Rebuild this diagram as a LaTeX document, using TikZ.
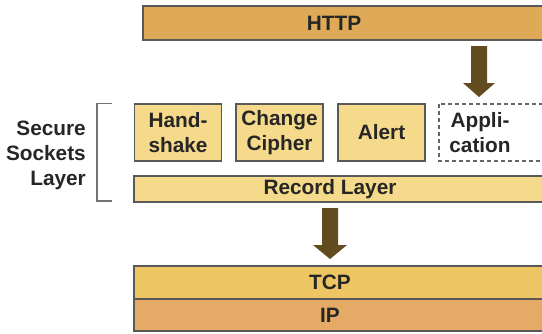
\documentclass[tikz,border=0pt]{standalone}
\usepackage{fontspec}
\setmainfont{Liberation Sans}
\begin{document}
\begin{tikzpicture}[x=1pt,y=-1pt,
  lbl/.style={font=\bfseries\fontsize{20.8}{25}\selectfont, text=black!85, inner sep=0pt, align=center},
  bar/.style={draw=black!65, line width=1.2pt, lbl},
  proto/.style={bar, fill=protofill},
  fatarrow/.style={fill=arrowbrown, draw=none}
]
\definecolor{httpfill}{HTML}{DEAA57}
\definecolor{protofill}{HTML}{F6DA8B}
\definecolor{tcpfill}{HTML}{EDC562}
\definecolor{ipfill}{HTML}{E5AA66}
\definecolor{arrowbrown}{HTML}{634B20}
\useasboundingbox (0,0) rectangle (542,333);
\clip (0,0) rectangle (542,333);
% bars
\draw[bar, fill=httpfill] (143,6) rectangle (560,40);
\node[lbl] (http) at (334,23) {HTTP};
\node[proto, minimum width=87pt, minimum height=57pt] (hs) at (178,132.5) {Hand-\\shake};
\node[proto, minimum width=87pt, minimum height=57pt] (cc) at (279.5,132.5) {Change\\Cipher};
\node[proto, minimum width=87pt, minimum height=57pt] (al) at (381.5,132.5) {Alert};
\draw[draw=black!60, line width=1.2pt, dash pattern=on 4pt off 3pt] (439,104) rectangle (560,161);
\node[lbl] (app) at (480,132.5) {Appli-\\cation};
\draw[bar, fill=protofill] (134,176) rectangle (560,202);
\node[lbl] (rec) at (330,189) {Record Layer};
\draw[bar, fill=tcpfill] (134,266) rectangle (560,299);
\node[lbl] (tcp) at (330,282.5) {TCP};
\draw[bar, fill=ipfill] (134,299) rectangle (560,331);
\node[lbl] (ip) at (330,315) {IP};
% bracket and label
\draw[draw=black!55, line width=1.3pt] (112,103.5) -- (97,103.5) -- (97,201) -- (112,201);
\node[lbl, align=right, anchor=east] (ssl) at (86,155.5) {Secure\\Sockets\\Layer};
% arrows
\fill[fatarrow] (471,46) -- (487,46) -- (487,83) -- (495,83) -- (479,97) -- (463,83) -- (471,83) -- cycle;
\fill[fatarrow] (322,208) -- (338,208) -- (338,245) -- (347,245) -- (330,259) -- (313,245) -- (322,245) -- cycle;
\end{tikzpicture}
\end{document}
